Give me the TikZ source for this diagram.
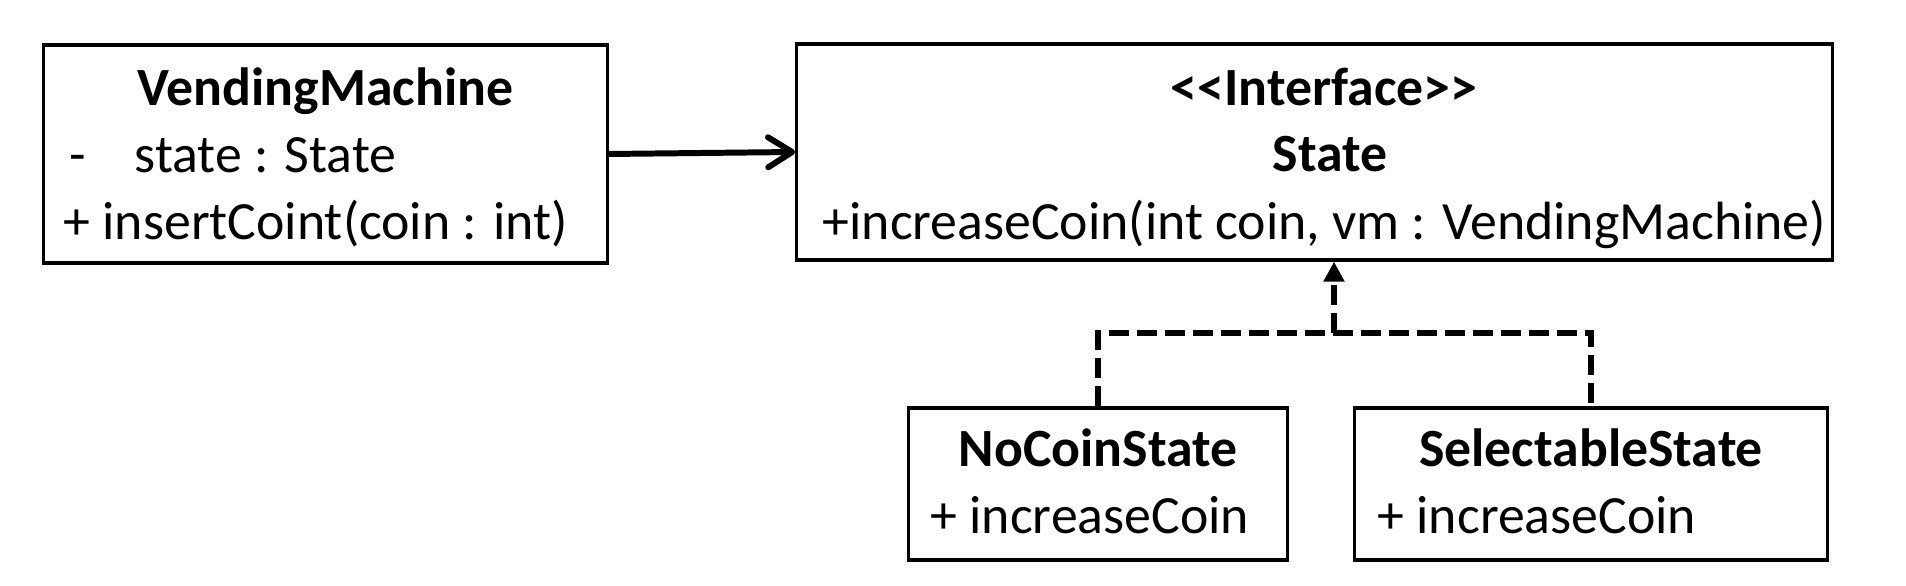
\documentclass[tikz,border=0pt]{standalone}
\usepackage{fontspec}
\setmainfont{Carlito}
\usetikzlibrary{arrows.meta,positioning}
\newcommand\umlsize{\fontsize{15.3}{19}\selectfont}

\begin{document}
\begin{tikzpicture}[x=0.01cm,y=-0.01cm,
    umlbox/.style={draw,line width=0.9pt,inner sep=0pt},
    heading/.style={font=\umlsize\bfseries,anchor=base,inner sep=0pt},
    member/.style={font=\umlsize,anchor=base west,inner sep=0pt},
    realize/.style={line width=1.6pt,dash pattern=on 0.2cm off 0.08cm}]
  \useasboundingbox (0,0) rectangle (1906,586);
  % class boxes
  \node[umlbox,minimum width=5.63cm,minimum height=2.18cm] (vm) at (325.5,154) {};
  \node[umlbox,minimum width=10.35cm,minimum height=2.16cm] (state) at (1314.5,152) {};
  \node[umlbox,minimum width=3.78cm,minimum height=1.52cm] (nocoin) at (1098,484) {};
  \node[umlbox,minimum width=4.72cm,minimum height=1.52cm] (selectable) at (1591,484) {};
  % VendingMachine
  \node[heading] (vmname) at (325.5,106) {VendingMachine};
  \node[member] (vmdash) at (69,172.6) {-};
  \node[member] (vmfield) at (134,172.6) {state : State};
  \node[member] (vmop) at (63,239.5) {+ insertCoint(coin : int)};
  % State
  \node[heading] (stereo) at (1324,106) {<\kern0pt<Interface>\kern0pt>};
  \node[heading] (statename) at (1330,171.4) {State};
  \node[member] (stateop) at (822,239.5) {+increaseCoin(int coin, vm : VendingMachine)};
  % concrete states
  \foreach \n/\lab/\x in {nocoin/NoCoinState/930, selectable/SelectableState/1377} {
    \node[heading] (\n name) at (\n.center |- 0,466.8) {\lab};
    \node[member] (\n op) at (\x,533.6) {+ increaseCoin};
  }
  % association
  \draw[line width=1.7pt,-{Straight Barb[length=0.24cm,width=0.3cm,round]}] (vm.east) -- (state.west);
  % realization
  \coordinate (fork) at (1334,333);
  \draw[realize] (nocoin.north) |- (fork) -| (selectable.north);
  \draw[realize,-{Triangle[length=0.2cm,width=0.2cm]}] (fork) -- (fork |- state.south);
\end{tikzpicture}
\end{document}
